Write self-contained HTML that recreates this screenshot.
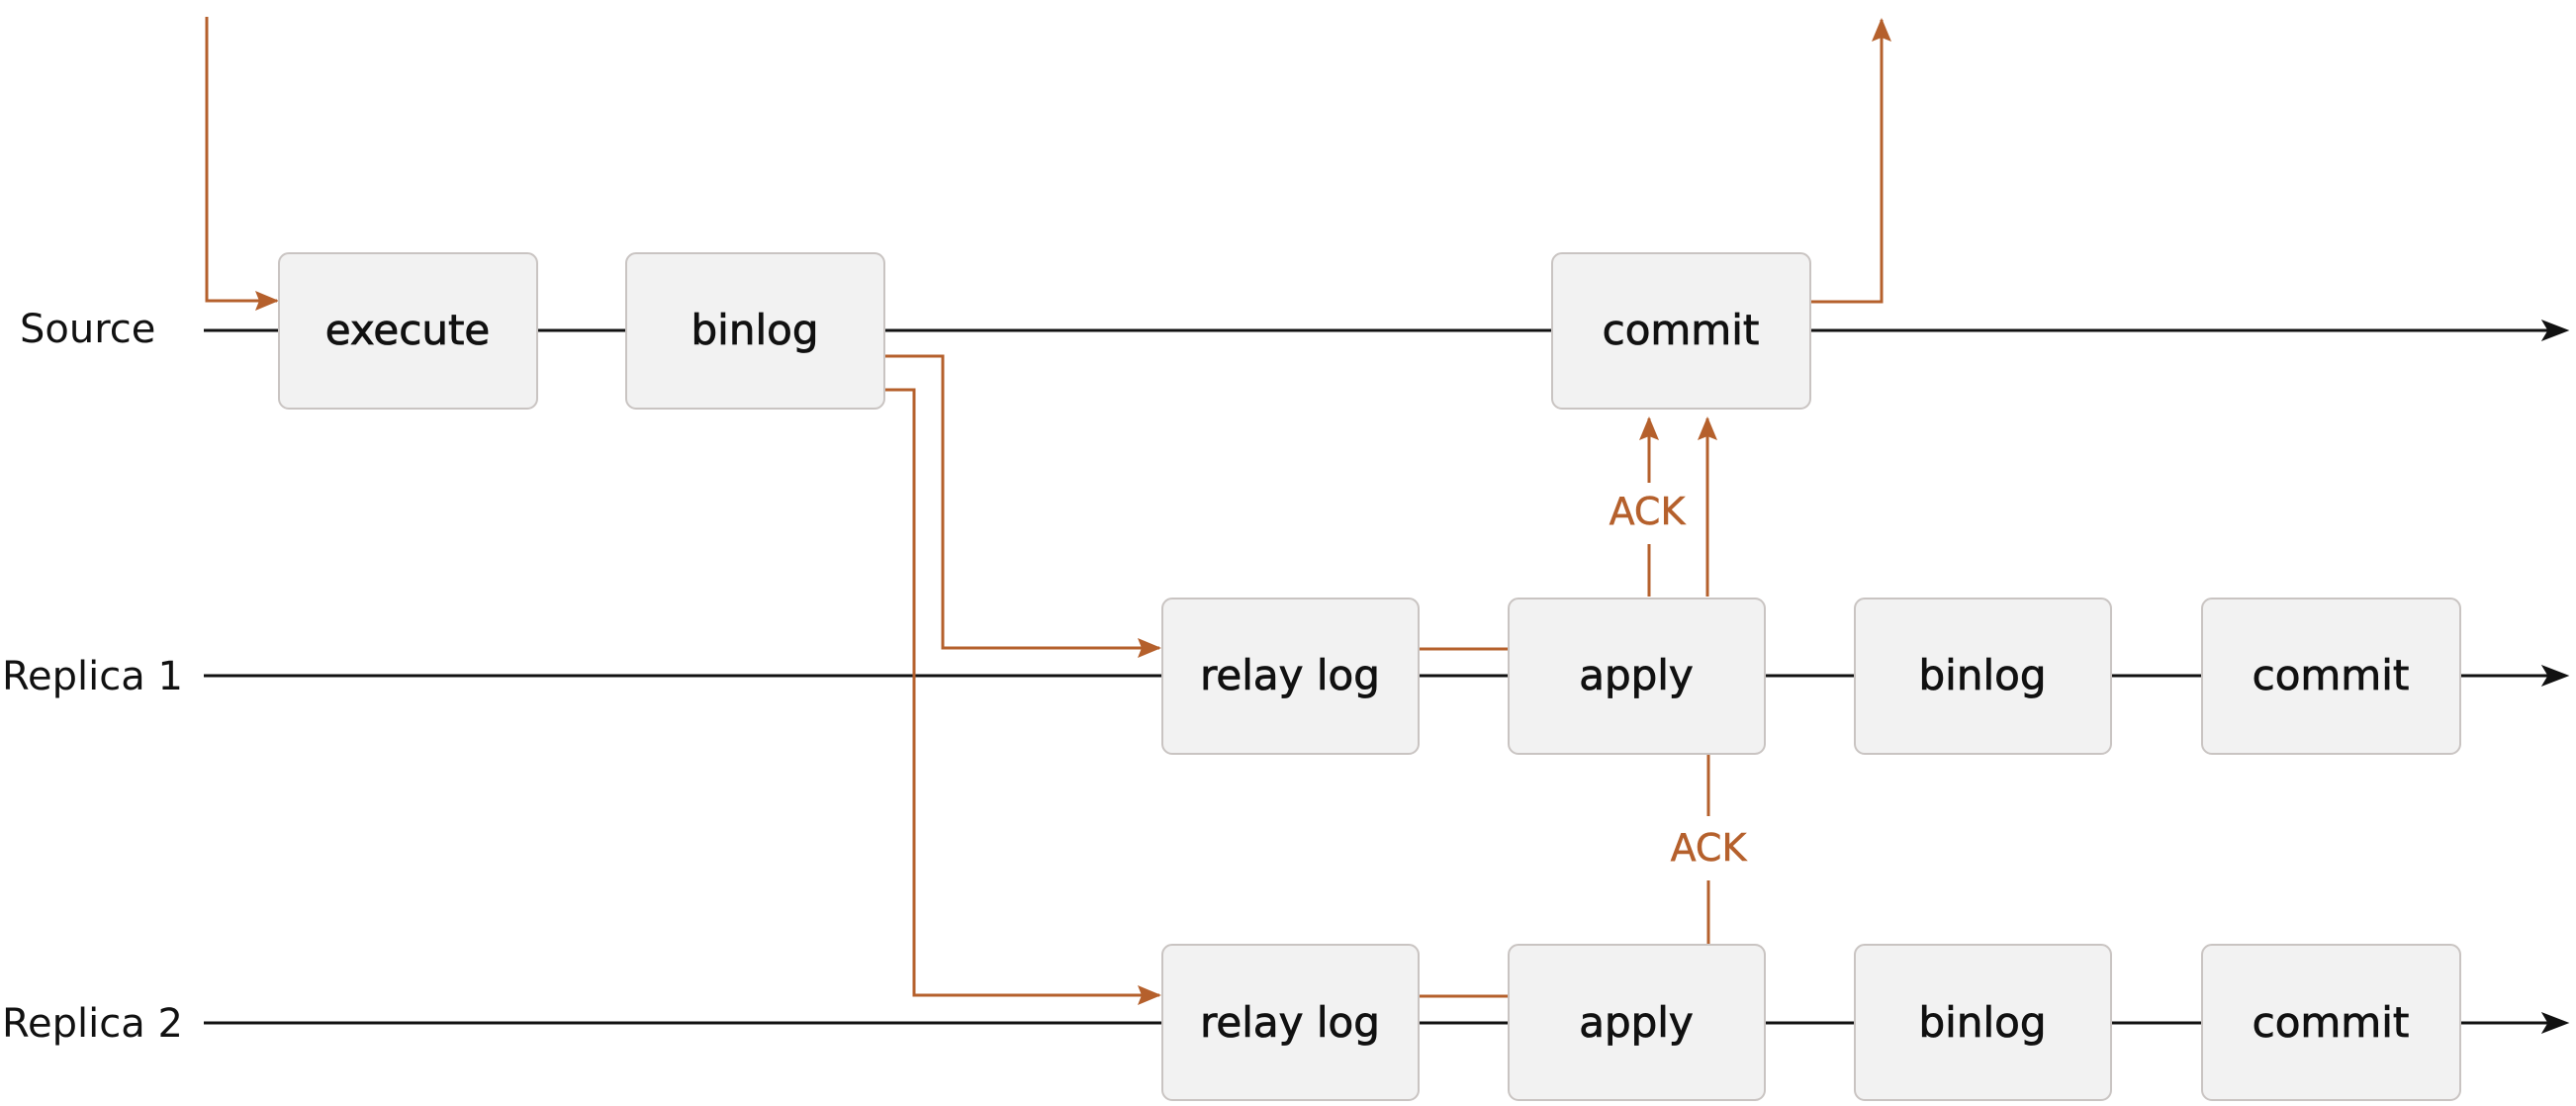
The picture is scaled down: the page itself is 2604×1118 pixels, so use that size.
<!DOCTYPE html>
<html><head><meta charset="utf-8"><style>
html,body{margin:0;padding:0;background:#fff;}
svg{display:block;}
text{font-family:"DejaVu Sans","Liberation Sans",sans-serif;}
</style></head><body>
<svg width="2604" height="1118" viewBox="0 0 2604 1118" xmlns="http://www.w3.org/2000/svg">
<defs>
<marker id="ao" markerWidth="24" markerHeight="24" refX="22" refY="12" orient="auto" markerUnits="userSpaceOnUse" viewBox="0 0 24 24"><path d="M0,2 L24,12 L0,22 L4,12z" fill="#b5602c"/></marker>
</defs>
<g stroke="#111" stroke-width="3" fill="none">
<line x1="206" y1="334" x2="2580" y2="334"/>
<line x1="206" y1="683" x2="2580" y2="683"/>
<line x1="206" y1="1034" x2="2580" y2="1034"/>
</g>
<g stroke="#111" fill="#111"><path d="M2570,324 L2596,334 L2570,344 L2576,334z"/><path d="M2570,673 L2596,683 L2570,693 L2576,683z"/><path d="M2570,1024 L2596,1034 L2570,1044 L2576,1034z"/></g>
<g stroke="#b5602c" stroke-width="3" fill="none">
<polyline points="209,17 209,304 280,304" marker-end="url(#ao)"/>
<polyline points="1830,305 1902,305 1902,20" marker-end="url(#ao)"/>
<polyline points="894,360 953,360 953,655 1172,655" marker-end="url(#ao)"/>
<polyline points="894,394 924,394 924,1006 1172,1006" marker-end="url(#ao)"/>
<line x1="1433" y1="656" x2="1525" y2="656"/>
<line x1="1433" y1="1007" x2="1525" y2="1007"/>
<line x1="1667" y1="488" x2="1667" y2="423" marker-end="url(#ao)"/>
<line x1="1667" y1="550" x2="1667" y2="603"/>
<line x1="1726" y1="603" x2="1726" y2="423" marker-end="url(#ao)"/>
<line x1="1727" y1="761" x2="1727" y2="825"/>
<line x1="1727" y1="890" x2="1727" y2="955"/>
</g>
<g fill="#b5602c" stroke="#b5602c" stroke-width="0.5" font-size="38" text-anchor="middle">
<text x="1665" y="530">ACK</text>
<text x="1727" y="870">ACK</text>
</g>
<g fill="#f2f2f2" stroke="#c9c4c2" stroke-width="2">
<rect x="282" y="256" width="261" height="157" rx="10"/>
<rect x="633" y="256" width="261" height="157" rx="10"/>
<rect x="1569" y="256" width="261" height="157" rx="10"/>
<rect x="1175" y="605" width="259" height="157" rx="10"/>
<rect x="1525" y="605" width="259" height="157" rx="10"/>
<rect x="1875" y="605" width="259" height="157" rx="10"/>
<rect x="2226" y="605" width="261" height="157" rx="10"/>
<rect x="1175" y="955" width="259" height="157" rx="10"/>
<rect x="1525" y="955" width="259" height="157" rx="10"/>
<rect x="1875" y="955" width="259" height="157" rx="10"/>
<rect x="2226" y="955" width="261" height="157" rx="10"/>
</g>
<g fill="#111" stroke="#111" stroke-width="0.8" font-size="42" text-anchor="middle">
<text x="412" y="348">execute</text>
<text x="763" y="348">binlog</text>
<text x="1699" y="348">commit</text>
<text x="1304" y="697">relay log</text>
<text x="1654" y="697">apply</text>
<text x="2004" y="697">binlog</text>
<text x="2356" y="697">commit</text>
<text x="1304" y="1048">relay log</text>
<text x="1654" y="1048">apply</text>
<text x="2004" y="1048">binlog</text>
<text x="2356" y="1048">commit</text>
</g>
<g fill="#111" font-size="40">
<text x="20" y="346">Source</text>
<text x="2" y="697">Replica 1</text>
<text x="2" y="1048">Replica 2</text>
</g>
</svg>
</body></html>
